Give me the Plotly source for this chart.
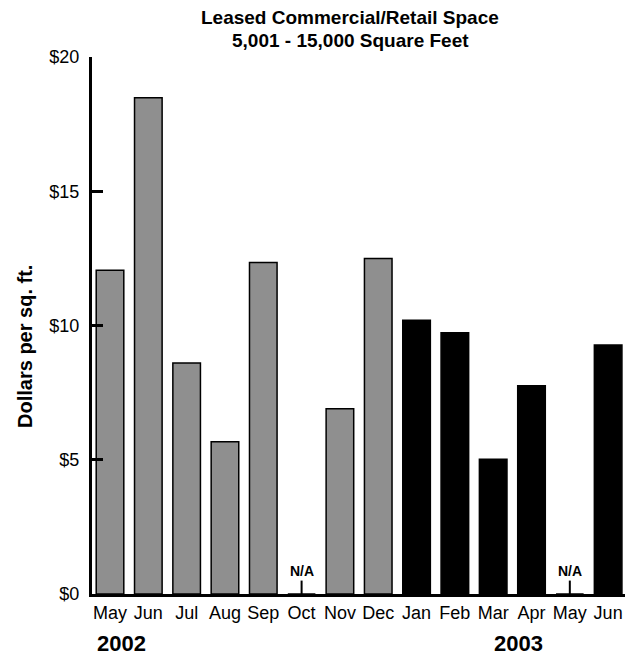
import plotly.graph_objects as go

months = ["May", "Jun", "Jul", "Aug", "Sep", "Oct", "Nov", "Dec",
          "Jan", "Feb", "Mar", "Apr", "May", "Jun"]
years = ["2002"] * 8 + ["2003"] * 6
values = [12.06, 18.48, 8.6, 5.67, 12.35, None, 6.9, 12.5,
          10.2, 9.73, 5.02, 7.76, None, 9.27]
y_ticks = [0, 5, 10, 15, 20]
y_ticklabels = ["$0", "$5", "$10", "$15", "$20"]
title_lines = ["Leased Commercial/Retail Space", "5,001 - 15,000 Square Feet"]

FONT = "Liberation Sans, Arial, sans-serif"
GRAY = "#8f8f8f"

xs = list(range(len(months)))
colors = [GRAY if yr == "2002" else "#000000" for yr in years]

fig = go.Figure()
fig.add_trace(go.Bar(
    x=xs, y=[v if v is not None else 0 for v in values],
    width=0.72,
    marker=dict(color=colors, line=dict(color="#000000", width=1.5)),
    hoverinfo="skip",
))

# N/A markers
for i, v in enumerate(values):
    if v is None:
        fig.add_shape(type="line", xref="x", yref="y", x0=i, x1=i, y0=0, y1=0.5,
                      line=dict(color="black", width=2))
        fig.add_annotation(x=i, y=0.86, xref="x", yref="y", text="<b>N/A</b>",
                           showarrow=False, yanchor="middle",
                           font=dict(family=FONT, size=14, color="black"))

# year labels
fig.add_annotation(x=-0.39, y=-0.093, xref="x", yref="paper", text="<b>2002</b>",
                   showarrow=False, xanchor="left", yanchor="middle",
                   font=dict(family=FONT, size=22, color="black"))
fig.add_annotation(x=10.67, y=-0.093, xref="x", yref="paper", text="<b>2003</b>",
                   showarrow=False, xanchor="center", yanchor="middle",
                   font=dict(family=FONT, size=22, color="black"))

# y-axis title
fig.add_annotation(x=(17 - 84) / 533, y=0.46, xref="paper", yref="paper",
                   text="<b>Dollars per sq. ft.</b>",
                   showarrow=False, textangle=-90, xanchor="center", yanchor="middle",
                   font=dict(family=FONT, size=20, color="black"))

# title (two lines)
for line, ypx in zip(title_lines, [9, 32]):
    fig.add_annotation(x=(342 - 84) / 533, y=(586 - ypx) / 537, xref="paper", yref="paper",
                       text="<b>" + line + "</b>", showarrow=False,
                       xanchor="center", yanchor="middle",
                       font=dict(family=FONT, size=19, color="black"))

fig.update_layout(
    width=628, height=654,
    margin=dict(l=84, r=11, t=49, b=68, autoexpand=False),
    paper_bgcolor="white", plot_bgcolor="white",
    showlegend=False,
    font=dict(family=FONT, color="black"),
)
fig.update_xaxes(
    range=[-0.47, 13.44],
    tickvals=xs, ticktext=months,
    tickfont=dict(family=FONT, size=18, color="black"),
    showgrid=False, zeroline=False,
    showline=True, linecolor="black", linewidth=3,
    ticks="", ticklabelstandoff=0,
)
fig.update_yaxes(
    range=[0, 20],
    tickvals=y_ticks, ticktext=y_ticklabels,
    tickfont=dict(family=FONT, size=18, color="black"),
    showgrid=False, zeroline=False,
    showline=True, linecolor="black", linewidth=3,
    ticks="inside", ticklen=11, tickwidth=3, tickcolor="black",
    ticklabelstandoff=6,
)

fig.write_html("out.html")
